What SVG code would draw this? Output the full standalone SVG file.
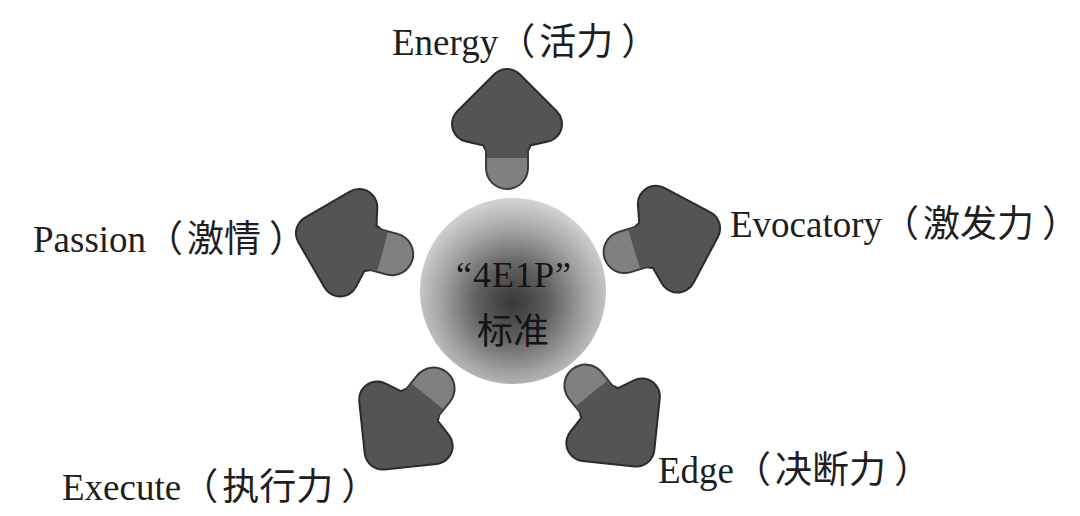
<svg xmlns="http://www.w3.org/2000/svg" width="1080" height="516" viewBox="0 0 1080 516">
  <style>
    .label { font-family: "Liberation Serif", "Noto Sans CJK SC", serif; font-size: 37px; fill: #1e1e1e; }
    .center { font-family: "Liberation Serif", "Noto Sans CJK SC", serif; fill: #141414; text-anchor: middle; }
    .outline { fill: #2b2b2b; stroke: #2b2b2b; stroke-linejoin: round; }
    .body { fill: #545454; stroke: #545454; stroke-linejoin: round; }
  </style>
  <defs>
    <radialGradient id="ballGrad" cx="0.5" cy="0.56" r="0.55">
      <stop offset="0" stop-color="#383838"/>
      <stop offset="0.35" stop-color="#5f5f5f"/>
      <stop offset="0.7" stop-color="#a2a2a2"/>
      <stop offset="1" stop-color="#d2d2d2"/>
    </radialGradient>
    <g id="arrow">
      <polygon class="outline" points="204,0 167,-37 160,-6 150,-6 150,6 160,6 167,37" stroke-width="38"/>
      <line x1="123" y1="0" x2="160" y2="0" stroke="#3a3a3a" stroke-width="44" stroke-linecap="round"/>
      <line x1="123" y1="0" x2="160" y2="0" stroke="#808080" stroke-width="40" stroke-linecap="round"/>
      <rect x="133" y="-20" width="32" height="40" fill="#545454"/>
      <polygon class="body" points="204,0 167,-37 160,-6 150,-6 150,6 160,6 167,37" stroke-width="34"/>
    </g>
  </defs>
  <rect x="0" y="0" width="1080" height="516" fill="#ffffff"/>

  <g id="connectors">
    <use href="#arrow" transform="translate(507,291) rotate(-90)"/>
    <use href="#arrow" transform="translate(507,288) rotate(-17)"/>
    <use href="#arrow" transform="translate(508,290) rotate(51)"/>
    <use href="#arrow" transform="translate(511,293) rotate(129)"/>
    <use href="#arrow" transform="translate(511,286) rotate(195)"/>
  </g>

  <g id="center-node">
    <circle cx="513" cy="291" r="93" fill="url(#ballGrad)"/>
    <text class="center" x="514" y="287" font-size="36" letter-spacing="1">“4E1P”</text>
    <text class="center" x="513" y="344" font-size="36">标准</text>
  </g>

  <g id="node-energy">
    <text class="label" x="392" y="55">Energy（<tspan dx="4">活力</tspan><tspan dx="8">）</tspan></text>
  </g>
  <g id="node-evocatory">
    <text class="label" x="730" y="237">Evocatory（<tspan dx="4">激发力</tspan><tspan dx="8">）</tspan></text>
  </g>
  <g id="node-passion">
    <text class="label" x="33" y="252">Passion（<tspan dx="4">激情</tspan><tspan dx="8">）</tspan></text>
  </g>
  <g id="node-execute">
    <text class="label" x="62" y="500">Execute（<tspan dx="4">执行力</tspan><tspan dx="8">）</tspan></text>
  </g>
  <g id="node-edge">
    <text class="label" x="658" y="483">Edge（<tspan dx="4">决断力</tspan><tspan dx="8">）</tspan></text>
  </g>
</svg>
